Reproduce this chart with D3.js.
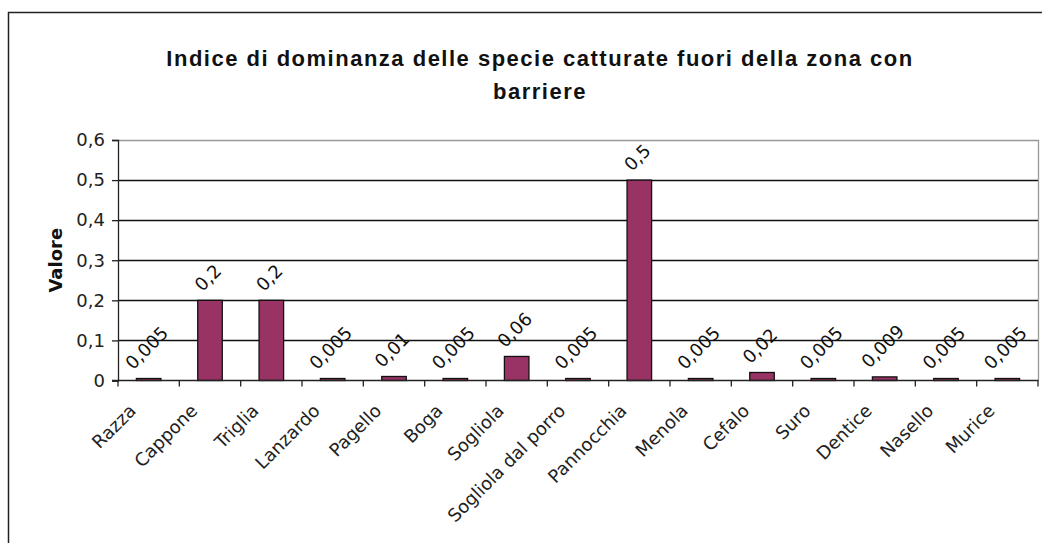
<!DOCTYPE html>
<html>
<head>
<meta charset="utf-8">
<script src="https://cdn.jsdelivr.net/npm/d3@7"></script>
<style>
  html, body { margin: 0; padding: 0; background: #fff; }
  svg { display: block; }
</style>
</head>
<body>
<svg id="chart" width="1042" height="543"></svg>
<script>
// Species caught outside the barrier zone and their dominance index
const categories = ["Razza", "Cappone", "Triglia", "Lanzardo", "Pagello", "Boga", "Sogliola",
  "Sogliola dal porro", "Pannocchia", "Menola", "Cefalo", "Suro", "Dentice", "Nasello", "Murice"];
const values = [0.005, 0.2, 0.2, 0.005, 0.01, 0.005, 0.06, 0.005, 0.5, 0.005, 0.02, 0.005, 0.009, 0.005, 0.005];
const valueLabels = ["0,005", "0,2", "0,2", "0,005", "0,01", "0,005", "0,06", "0,005", "0,5", "0,005", "0,02", "0,005", "0,009", "0,005", "0,005"];
const yTicks = [0, 0.1, 0.2, 0.3, 0.4, 0.5, 0.6];
const yTickLabels = ["0", "0,1", "0,2", "0,3", "0,4", "0,5", "0,6"];
const titleLines = ["Indice di dominanza delle specie catturate fuori della zona con", "barriere"];
const yTitle = "Valore";

const svg = d3.select("#chart");
const font = "'DejaVu Sans', Verdana, sans-serif";
const labelSize = 18;

const plot = { left: 118, right: 1038, top: 140, bottom: 380.5 };

const x = d3.scaleBand()
  .domain(categories)
  .range([plot.left, plot.right])
  .paddingInner(0.6)
  .paddingOuter(0.3);

const y = d3.scaleLinear()
  .domain([0, 0.6])
  .range([plot.bottom, plot.top]);

// outer chart frame
svg.append("rect")
  .attr("x", 8.5).attr("y", 12.5)
  .attr("width", 1100).attr("height", 600)
  .attr("fill", "none").attr("stroke", "#222").attr("stroke-width", 1.5);

// title
svg.append("g").selectAll("text")
  .data(titleLines)
  .join("text")
  .attr("x", 540)
  .attr("y", (d, i) => 66 + i * 33)
  .attr("text-anchor", "middle")
  .attr("font-family", "'Liberation Sans', Arial, sans-serif")
  .attr("font-weight", "bold")
  .attr("font-size", 22)
  .attr("letter-spacing", 1.5)
  .attr("fill", "#111")
  .text(d => d);

// horizontal gridlines
svg.append("g").selectAll("line")
  .data(yTicks.filter(t => t > 0 && t < 0.6))
  .join("line")
  .attr("x1", plot.left).attr("x2", plot.right)
  .attr("y1", d => Math.round(y(d)) + 0.5).attr("y2", d => Math.round(y(d)) + 0.5)
  .attr("stroke", "#111").attr("stroke-width", 1.3);

// plot area top and right edges
svg.append("path")
  .attr("d", `M${plot.left},${Math.round(y(0.6)) + 0.5}H${plot.right + 0.5}V${plot.bottom}`)
  .attr("fill", "none").attr("stroke", "#999").attr("stroke-width", 1.3);

// y axis
const yAxis = d3.axisLeft(y)
  .tickValues(yTicks)
  .tickSize(6)
  .tickPadding(7)
  .tickFormat((d, i) => yTickLabels[i]);

const yg = svg.append("g")
  .attr("transform", `translate(${plot.left},0)`)
  .call(yAxis);
yg.select(".domain").attr("stroke", "#222").attr("stroke-width", 1.3);
yg.selectAll(".tick line").attr("stroke", "#222").attr("stroke-width", 1.3);
yg.selectAll(".tick text")
  .attr("font-family", font).attr("font-size", labelSize).attr("fill", "#222");

// y axis title
svg.append("text")
  .attr("transform", `translate(62,${(plot.top + plot.bottom) / 2}) rotate(-90)`)
  .attr("text-anchor", "middle")
  .attr("font-family", font)
  .attr("font-weight", "bold")
  .attr("font-size", 18)
  .attr("fill", "#111")
  .text(yTitle);

// bars
svg.append("g").selectAll("rect")
  .data(values)
  .join("rect")
  .attr("x", (d, i) => x(categories[i]))
  .attr("y", d => y(d))
  .attr("width", x.bandwidth())
  .attr("height", d => y(0) - y(d))
  .attr("fill", "#993366")
  .attr("stroke", "#111")
  .attr("stroke-width", 1.3);

// x axis line and category boundary ticks
svg.append("line")
  .attr("x1", plot.left - 6).attr("x2", plot.right + 0.5)
  .attr("y1", plot.bottom).attr("y2", plot.bottom)
  .attr("stroke", "#222").attr("stroke-width", 1.3);

const step = x.step();
svg.append("g").selectAll("line")
  .data(d3.range(categories.length + 1))
  .join("line")
  .attr("x1", i => x.range()[0] + i * step)
  .attr("x2", i => x.range()[0] + i * step)
  .attr("y1", plot.bottom).attr("y2", plot.bottom + 6)
  .attr("stroke", "#222").attr("stroke-width", 1.3);

// category labels, rotated
svg.append("g").selectAll("text")
  .data(categories)
  .join("text")
  .attr("transform", d => `translate(${x(d) + x.bandwidth() / 2 - 16},${plot.bottom + 27}) rotate(-45)`)
  .attr("text-anchor", "end")
  .attr("dy", "0.35em")
  .attr("font-family", font)
  .attr("font-size", labelSize)
  .attr("fill", "#222")
  .text(d => d);

// value labels above bars, rotated
svg.append("g").selectAll("text")
  .data(values)
  .join("text")
  .attr("font-family", font)
  .attr("font-size", labelSize)
  .attr("fill", "#111")
  .attr("text-anchor", "middle")
  .attr("dy", "0.35em")
  .text((d, i) => valueLabels[i])
  .attr("transform", function (d, i) {
    const w = this.getComputedTextLength();
    const half = (w + 21) * Math.SQRT1_2 / 2;
    const cx = x(categories[i]) + x.bandwidth() / 2 - 2;
    const cy = y(d) - 5 - half;
    return `translate(${cx},${cy}) rotate(-45)`;
  });
</script>
</body>
</html>
